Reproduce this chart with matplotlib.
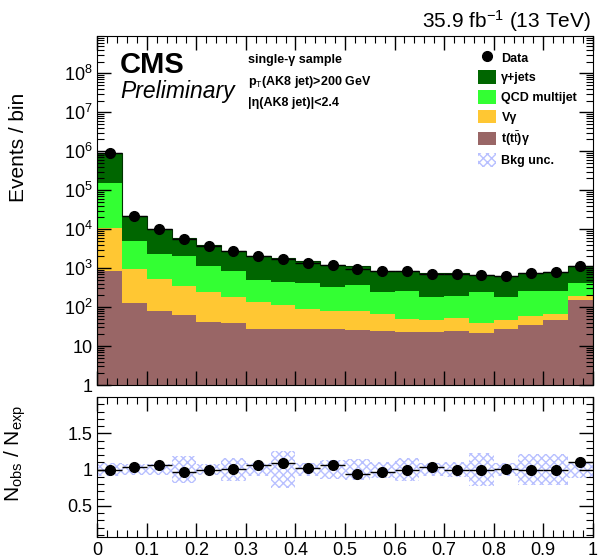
import numpy as np
import matplotlib
matplotlib.use("Agg")
import matplotlib.pyplot as plt
from matplotlib.patches import Patch
from matplotlib.lines import Line2D
from matplotlib.ticker import MultipleLocator, LogLocator, FixedLocator, FixedFormatter, NullFormatter

plt.rcParams['font.family'] = ['Liberation Sans', 'DejaVu Sans']
plt.rcParams['mathtext.fontset'] = 'custom'
plt.rcParams['mathtext.rm'] = 'Liberation Sans'
plt.rcParams['mathtext.it'] = 'Liberation Sans:italic'
plt.rcParams['mathtext.bf'] = 'Liberation Sans:bold'
plt.rcParams['hatch.linewidth'] = 1.0

# binning (20 bins of 0.05)
edges = np.linspace(0.0, 1.0, 21)
centers = 0.5 * (edges[:-1] + edges[1:])

# per-process yields
ttgamma = [850, 125, 78, 63, 42, 40, 27, 27, 28, 27, 26, 24, 23, 23, 25, 21, 28, 35, 46, 151]
vgamma = [10150, 815, 447, 290, 196, 144, 105, 86, 61, 53, 53, 42, 26, 23, 28, 19, 18, 25, 19, 39]
qcd = [139000, 3960, 1775, 1747, 862, 651, 358, 332, 331, 250, 281, 180, 213, 138, 142, 206, 138, 202, 197, 230]
gjets = [750000, 17100, 7500, 3900, 2800, 1865, 1610, 1335, 1080, 870, 740, 604, 588, 546, 565, 419, 436, 468, 548, 700]

data = [9.0e5, 2.2e4, 9.8e3, 5.6e3, 3.7e3, 2.7e3, 2.1e3, 1.75e3, 1.35e3, 1.2e3,
        960, 820, 820, 710, 700, 650, 620, 730, 790, 1.1e3]

# ratio panel
ratio = [1.00, 1.03, 1.07, 0.97, 1.00, 1.01, 1.06, 1.09, 1.02, 1.06,
         0.94, 0.96, 1.00, 1.04, 0.99, 1.00, 1.01, 1.00, 1.00, 1.10]
bkg_unc = [0.09, 0.075, 0.08, 0.19, 0.075, 0.16, 0.09, 0.25, 0.09, 0.13,
           0.14, 0.11, 0.16, 0.09, 0.10, 0.23, 0.09, 0.21, 0.21, 0.11]

procs = [
    ("t(t$\\bar{\\rm t}$)γ", ttgamma, "#996666"),
    ("Vγ", vgamma, "#ffc733"),
    ("QCD multijet", qcd, "#33ff33"),
    ("γ+jets", gjets, "#006600"),
]

fig = plt.figure(figsize=(6, 5.6), dpi=100)
ax = fig.add_axes([0.162, 0.3125, 0.826, 0.623])
rax = fig.add_axes([0.162, 0.041, 0.826, 0.25])

# stacked histogram
bottom = np.full(20, 1e-3)
for name, vals, col in procs:
    top = bottom + np.array(vals, dtype=float)
    ax.stairs(top, edges, baseline=bottom, fill=True, color=col, lw=0)
    bottom = top
ax.stairs(bottom, edges, color="#003300", lw=0.8)

data = np.array(data)
ax.errorbar(centers, data, xerr=0.025, yerr=np.sqrt(data), fmt="o", color="black",
            ms=7, lw=1, capsize=0)

ax.set_yscale("log")
ax.set_xlim(0, 1)
ax.set_ylim(1, 9e8)
ax.yaxis.set_major_locator(FixedLocator([10.0**i for i in range(9)]))
ax.yaxis.set_major_formatter(FixedFormatter(["1", "10", "$10^{2}$", "$10^{3}$", "$10^{4}$",
                                             "$10^{5}$", "$10^{6}$", "$10^{7}$", "$10^{8}$"]))
ax.yaxis.set_minor_locator(LogLocator(base=10, subs=np.arange(2, 10), numticks=20))
ax.yaxis.set_minor_formatter(NullFormatter())
ax.xaxis.set_major_locator(MultipleLocator(0.1))
ax.xaxis.set_minor_locator(MultipleLocator(0.02))
ax.set_xticklabels([])
ax.set_ylabel("Events / bin", fontsize=15)

for a in (ax, rax):
    a.tick_params(which="both", direction="in", top=True, right=True, labelsize=13)
    a.tick_params(which="major", length=10, width=1)
    a.tick_params(which="minor", length=5, width=0.8)

# text
ax.text(0.046, 0.917, "CMS", transform=ax.transAxes, fontsize=21, fontweight="bold", va="center")
ax.text(0.046, 0.84, "Preliminary", transform=ax.transAxes, fontsize=16.5, style="italic", va="center")
ax.text(0.305, 0.931, "single-γ sample", transform=ax.transAxes, fontsize=9, fontweight="bold", va="center")
ax.text(0.305, 0.868, "p$_{\\rm T}$(AK8 jet)>200 GeV", transform=ax.transAxes, fontsize=9, fontweight="bold", va="center")
ax.text(0.305, 0.808, "|η(AK8 jet)|<2.4", transform=ax.transAxes, fontsize=9, fontweight="bold", va="center")
fig.text(0.985, 0.963, "35.9 fb$^{-1}$ (13 TeV)", fontsize=15, ha="right", va="center")

# legend
handles = [Line2D([], [], marker="o", color="black", ls="none", ms=7)]
labels = ["Data"]
for name, vals, col in procs[::-1]:
    handles.append(Patch(facecolor=col, edgecolor="none"))
    labels.append(name)
handles.append(Patch(facecolor="none", edgecolor="#b8c0ff", hatch="xxxx", lw=0))
labels.append("Bkg unc.")
ax.legend(handles, labels, loc="upper left", bbox_to_anchor=(0.745, 0.99), frameon=False,
          prop={"weight": "bold", "size": 9}, handlelength=1.5, handleheight=1.3,
          handletextpad=0.4, labelspacing=0.45)

# ratio panel
unc = np.array(bkg_unc)
rax.bar(centers, 2 * unc, bottom=1 - unc, width=0.05, facecolor="none",
        edgecolor="#b8c0ff", hatch="xxxx", lw=0)
rax.errorbar(centers, ratio, xerr=0.025, yerr=0.01, fmt="o", color="black", ms=7, lw=1, capsize=0)
rax.set_xlim(0, 1)
rax.set_ylim(0.07, 2.0)
rax.yaxis.set_major_locator(FixedLocator([0.5, 1.0, 1.5]))
rax.yaxis.set_major_formatter(FixedFormatter(["0.5", "1", "1.5"]))
rax.yaxis.set_minor_locator(MultipleLocator(0.1))
rax.xaxis.set_minor_locator(MultipleLocator(0.02))
rax.set_xticks(np.arange(0, 1.01, 0.1))
rax.set_xticklabels(["0", "0.1", "0.2", "0.3", "0.4", "0.5", "0.6", "0.7", "0.8", "0.9", "1"])
rax.set_ylabel("N$_{\\rm obs}$ / N$_{\\rm exp}$", fontsize=15)
rax.yaxis.set_label_coords(-0.14, 0.6)
ax.yaxis.set_label_coords(-0.14, 0.68)

fig.savefig("out.png", dpi=100)
